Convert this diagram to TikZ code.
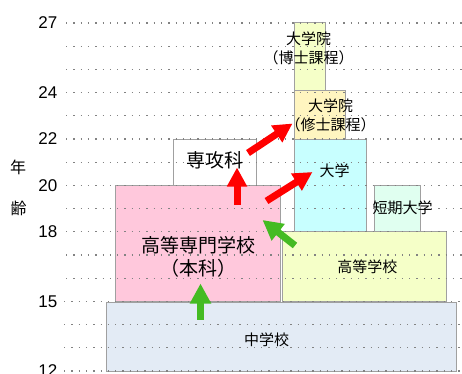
\documentclass[tikz,border=0pt]{standalone}
\usepackage{fontspec}
\setmainfont{Liberation Sans}
\newfontfamily\jp{Noto Sans CJK JP}
\usetikzlibrary{arrows.meta}
\definecolor{bordergray}{RGB}{160,160,160}
\definecolor{gridgray}{RGB}{130,130,130}
\definecolor{chugaku}{RGB}{227,235,245}
\definecolor{kosen}{RGB}{255,200,220}
\definecolor{koko}{RGB}{245,255,200}
\definecolor{tandai}{RGB}{224,255,240}
\definecolor{daigaku}{RGB}{200,255,255}
\definecolor{shushi}{RGB}{255,245,192}
\definecolor{hakushi}{RGB}{245,255,200}
\definecolor{redarrow}{RGB}{255,0,0}
\definecolor{greenarrow}{RGB}{68,187,34}
\begin{document}
\begin{tikzpicture}[x=1pt,y=-1pt,
  box/.style={draw=bordergray,line width=0.8pt,rectangle,inner sep=0pt,outer sep=0pt,anchor=north west},
  gridline/.style={gridgray,line width=1.3pt,dash pattern=on 1.3pt off 6pt},
  agelabel/.style={anchor=east,inner sep=0pt,font=\fontsize{17}{17}\selectfont},
  jplabel/.style={inner sep=0pt,align=center,font=\jp\fontsize{15}{19}\selectfont},
  biglabel/.style={inner sep=0pt,align=center,font=\jp\fontsize{19}{22.5}\selectfont},
  redarr/.style={redarrow,line width=7pt,-{Triangle[length=19pt,width=19pt]}},
  greenarr/.style={greenarrow,line width=7pt,-{Triangle[length=20pt,width=20pt]}}
]
\useasboundingbox (0,0) rectangle (462,373);
% boxes
\node[box,fill=chugaku,minimum width=350pt,minimum height=69pt] (chu) at (106.7,302) {};
\node[box,fill=kosen,minimum width=165pt,minimum height=116.5pt] (kosenbox) at (115.7,185.2) {};
\node[box,fill=koko,minimum width=164.4pt,minimum height=70pt] (kokobox) at (282.3,231.7) {};
\node[box,fill=tandai,minimum width=46pt,minimum height=46pt] (tandaibox) at (374.3,185.7) {};
\node[box,fill=daigaku,minimum width=72.3pt,minimum height=92.4pt] (daigakubox) at (294,139.3) {};
\node[box,fill=shushi,minimum width=51.3pt,minimum height=49.3pt] (shushibox) at (294,90) {};
\node[box,fill=hakushi,minimum width=31pt,minimum height=67.7pt] (hakushibox) at (294,22.3) {};
\node[box,fill=white,minimum width=83.4pt,minimum height=46pt] (senkobox) at (173.3,139.3) {};
% grid
\foreach \a in {16,...,27}{
  \draw[gridline] (66,{371-(\a-12)*23.2}) -- (462,{371-(\a-12)*23.2});
}
\foreach \a in {12,...,15}{
  \draw[gridline] (64,{371-(\a-12)*23.2}) -- (462,{371-(\a-12)*23.2});
}
% age labels
\node[agelabel] (a27) at (57.5,{371-15*23.2}) {27};
\node[agelabel] (a24) at (57.5,{371-12*23.2}) {24};
\node[agelabel] (a22) at (57.5,{371-10*23.2}) {22};
\node[agelabel] (a20) at (57.5,{371-8*23.2}) {20};
\node[agelabel] (a18) at (57.5,{371-6*23.2}) {18};
\node[agelabel] (a15) at (57.5,{371-3*23.2}) {15};
\node[agelabel] (a12) at (57.5,{371}) {12};
\node[jplabel,font=\jp\fontsize{16}{16}\selectfont] (nen) at (18,167) {年};
\node[jplabel,font=\jp\fontsize{16}{16}\selectfont] (rei) at (18.5,208) {齢};
% box labels
\node[jplabel] (chutxt) at (266.7,339.3) {中学校};
\node[biglabel] (kosentxt) at (198,257) {高等専門学校\\（本科）};
\node[jplabel] (kokotxt) at (367.3,267) {高等学校};
\node[jplabel] (tandaitxt) at (402.7,207.5) {短期大学};
\node[jplabel] (daigakutxt) at (334.7,171) {大学};
\node[jplabel] (shushitxt) at (330.5,115.5) {大学院\\（修士課程）};
\node[jplabel] (hakushitxt) at (308.5,48) {大学院\\（博士課程）};
\node[biglabel] (senkotxt) at (215,160) {専攻科};
% arrows
\coordinate (r1s) at (237,205);
\coordinate (r1e) at (237,167.5);
\coordinate (r2s) at (248,153);
\coordinate (r2e) at (292.5,123.5);
\coordinate (r3s) at (266.5,201);
\coordinate (r3e) at (312.5,172);
\coordinate (g1s) at (200.5,319.5);
\coordinate (g1e) at (200.5,283.5);
\coordinate (g2s) at (295,245.5);
\coordinate (g2e) at (262.5,220);
\draw[redarr] (r1s) -- (r1e);
\draw[redarr] (r2s) -- (r2e);
\draw[redarr] (r3s) -- (r3e);
\draw[greenarr] (g1s) -- (g1e);
\draw[greenarr] (g2s) -- (g2e);
\end{tikzpicture}
\end{document}
